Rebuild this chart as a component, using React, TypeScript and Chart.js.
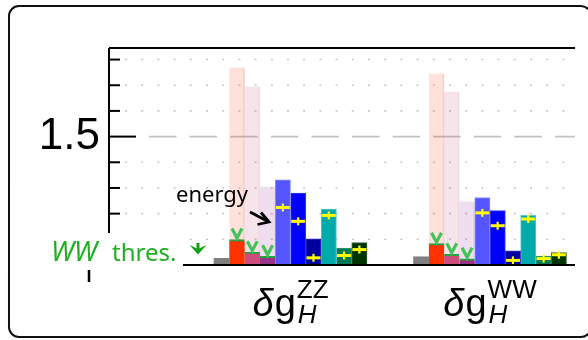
import React, { useEffect, useRef } from 'react';
import { Chart, registerables } from 'chart.js';

Chart.register(...registerables);

// ---- data ----
const groups = ['ZZ', 'WW'];
const groupPos = [1, 2];
const yTickValues = [1.1, 1.2, 1.3, 1.4, 1.5, 1.6, 1.7, 1.8];
const yLabelValue = 1.5;

const grayVals = [1.026, 1.032];
const redPaleVals = [1.769, 1.745];
const redVals = [1.099, 1.083];
const pinkPaleVals = [1.695, 1.675];
const pinkVals = [1.05, 1.042];
const purplePaleVals = [1.305, 1.247];
const purpleVals = [1.034, 1.024];
const blueLightVals = [1.332, 1.263];
const blueVals = [1.28, 1.212];
const navyVals = [1.102, 1.055];
const tealVals = [1.218, 1.193];
const seaGreenVals = [1.066, 1.035];
const darkGreenVals = [1.087, 1.048];

const blueLightCross = [1.224, 1.203];
const blueCross = [1.17, 1.153];
const navyCross = [1.028, 1.018];
const tealCross = [1.193, 1.179];
const seaGreenCross = [1.037, 1.025];
const darkGreenCross = [1.06, 1.04];

const Y_MIN = 1.0;
const Y_MAX = 1.845;

const SANS = '"Liberation Sans", Arial, sans-serif';
const NOTO = '"Noto Sans", "DejaVu Sans", sans-serif';

function pts(vals: number[]) {
  return vals.map((v, i) => ({ x: groupPos[i], y: v }));
}

type DS = any;

function solid(label: string, vals: number[], stack: string, color: string, border: string | null, extra: any = {}): DS {
  return {
    label,
    data: pts(vals),
    stack,
    order: 0,
    backgroundColor: color,
    borderColor: border || color,
    borderWidth: border ? { top: 1, left: 1, right: 1, bottom: 0 } : 0,
    borderSkipped: 'bottom',
    base: Y_MIN,
    ...extra,
  };
}

function pale(label: string, vals: number[], stack: string, color: string, border: string): DS {
  return {
    label,
    data: pts(vals),
    stack,
    order: 1,
    backgroundColor: color,
    borderColor: border,
    borderWidth: { top: 0, left: 0, right: 1, bottom: 0 },
    borderSkipped: 'bottom',
    base: Y_MIN,
  };
}

const thrBorder = { top: 2, left: 0, right: 0, bottom: 0 };

const overlay = {
  id: 'overlay',
  beforeDraw(chart: any) {
    const ctx = chart.ctx;
    ctx.save();
    ctx.fillStyle = '#ffffff';
    ctx.fillRect(0, 0, chart.width, chart.height);
    ctx.strokeStyle = '#111';
    ctx.lineWidth = 2;
    ctx.beginPath();
    ctx.roundRect(9, 6, 582, 331, 10);
    ctx.stroke();
    ctx.restore();
  },
  beforeDatasetsDraw(chart: any) {
    const ctx = chart.ctx;
    const ys = chart.scales.y;
    const { right } = chart.chartArea;
    ctx.save();
    for (const v of yTickValues) {
      const y = ys.getPixelForValue(v);
      ctx.beginPath();
      if (Math.abs(v - yLabelValue) < 1e-9) {
        ctx.strokeStyle = '#c2c2c2';
        ctx.lineWidth = 1.6;
        ctx.setLineDash([27.5, 13.1]);
        ctx.moveTo(149, y);
      } else {
        ctx.strokeStyle = '#c8c8c8';
        ctx.lineWidth = 1.6;
        ctx.setLineDash([2, 14.2]);
        ctx.moveTo(125, y);
      }
      ctx.lineTo(right, y);
      ctx.stroke();
    }
    ctx.restore();
  },
  afterDatasetsDraw(chart: any) {
    const ctx = chart.ctx;
    const ys = chart.scales.y;
    const xs = chart.scales.x;
    const { left, right, top, bottom } = chart.chartArea;
    ctx.save();

    // crosses and threshold markers
    chart.data.datasets.forEach((ds: any, i: number) => {
      const meta = chart.getDatasetMeta(i);
      meta.data.forEach((el: any, j: number) => {
        const x = el.x;
        if (ds.crosses) {
          const y = ys.getPixelForValue(ds.crosses[j]);
          ctx.strokeStyle = '#ffff00';
          ctx.lineWidth = 3;
          ctx.beginPath();
          ctx.moveTo(x - 7, y);
          ctx.lineTo(x + 7, y);
          ctx.stroke();
          ctx.lineWidth = 2.2;
          ctx.beginPath();
          ctx.moveTo(x, y - 4);
          ctx.lineTo(x, y + 4);
          ctx.stroke();
        }
        if (ds.thresh) {
          const t = el.y;
          ctx.strokeStyle = '#44c25a';
          ctx.lineWidth = 3.2;
          ctx.lineJoin = 'miter';
          ctx.beginPath();
          ctx.moveTo(x - 5, t - 11);
          ctx.lineTo(x, t - 1.5);
          ctx.lineTo(x + 5, t - 11);
          ctx.stroke();
        }
      });
    });

    // inner ticks
    ctx.strokeStyle = '#000';
    ctx.lineWidth = 2;
    for (const v of yTickValues) {
      const y = ys.getPixelForValue(v);
      const len = Math.abs(v - yLabelValue) < 1e-9 ? 27 : 11;
      ctx.beginPath();
      ctx.moveTo(left, y);
      ctx.lineTo(left + len, y);
      ctx.stroke();
    }
    // axis lines
    ctx.beginPath();
    ctx.moveTo(left, top);
    ctx.lineTo(right, top);
    ctx.moveTo(left, top);
    ctx.lineTo(left, bottom);
    ctx.moveTo(left, bottom);
    ctx.lineTo(right, bottom);
    ctx.stroke();

    // white box behind threshold label
    ctx.fillStyle = '#ffffff';
    ctx.fillRect(40, 233, 143, 34);

    // WW thres. label
    ctx.fillStyle = '#1fb01f';
    ctx.textBaseline = 'alphabetic';
    ctx.textAlign = 'left';
    ctx.font = 'italic 27px ' + NOTO;
    ctx.fillText('WW', 51, 261);
    ctx.font = '24px ' + NOTO;
    ctx.fillText('thres.', 112, 261);
    // chevron
    ctx.fillStyle = '#10a010';
    ctx.beginPath();
    ctx.moveTo(189.5, 245);
    ctx.lineTo(198, 249);
    ctx.lineTo(206.5, 245);
    ctx.lineTo(198, 254.5);
    ctx.closePath();
    ctx.fill();
    ctx.strokeStyle = '#10a010';
    ctx.lineWidth = 3;
    ctx.beginPath();
    ctx.moveTo(198, 243);
    ctx.lineTo(198, 251);
    ctx.stroke();

    // small mark
    ctx.strokeStyle = '#000';
    ctx.lineWidth = 2.5;
    ctx.beginPath();
    ctx.moveTo(89, 270);
    ctx.lineTo(89, 282);
    ctx.stroke();

    // energy label + arrow
    ctx.fillStyle = '#000';
    ctx.font = '22px ' + NOTO;
    ctx.fillText('energy', 176, 202);
    ctx.strokeStyle = '#000';
    ctx.lineWidth = 2.8;
    ctx.beginPath();
    ctx.moveTo(250, 212);
    ctx.lineTo(268, 221.5);
    ctx.stroke();
    ctx.beginPath();
    ctx.moveTo(261, 212.5);
    ctx.lineTo(269, 222);
    ctx.lineTo(257.5, 224.5);
    ctx.stroke();

    // group labels
    groups.forEach((g, i) => {
      const cx = xs.getPixelForValue(groupPos[i]);
      const fMainIt = 'italic 38px ' + SANS;
      const fMain = '38px ' + SANS;
      const fSup = '26px ' + SANS;
      const fSubIt = 'italic 26px ' + SANS;
      ctx.font = fMainIt;
      const wd = ctx.measureText('δ').width;
      ctx.font = fMain;
      const wg = ctx.measureText('g').width;
      ctx.font = fSup;
      const ws = ctx.measureText(g).width;
      ctx.font = fSubIt;
      const wh = ctx.measureText('H').width;
      const total = wd + wg + 2 + Math.max(ws, wh);
      let x = cx - total / 2;
      ctx.fillStyle = '#000';
      ctx.font = fMainIt;
      ctx.fillText('δ', x, 316);
      x += wd + 1;
      ctx.font = fMain;
      ctx.fillText('g', x, 316);
      x += wg + 1;
      ctx.font = fSup;
      ctx.fillText(g, x, 298);
      ctx.font = fSubIt;
      ctx.fillText('H', x + 1, 323);
    });

    ctx.restore();
  },
};

export default function App() {
  const ref = useRef<HTMLCanvasElement>(null);
  useEffect(() => {
    if (!ref.current) return;
    const datasets: DS[] = [
      solid('gray', grayVals, 's0', '#808080', null),
      solid('red', redVals, 's1', '#ff3300', '#22a040', { borderWidth: thrBorder, thresh: true }),
      solid('pink', pinkVals, 's2', '#cc4c7c', '#22a040', { borderWidth: thrBorder, thresh: true }),
      solid('purple', purpleVals, 's3', '#993388', '#22a040', { borderWidth: thrBorder, thresh: true }),
      solid('blueLight', blueLightVals, 's4', '#5555ff', '#8c8cff', { crosses: blueLightCross }),
      solid('blue', blueVals, 's5', '#0000ff', '#3a3aff', { crosses: blueCross }),
      solid('navy', navyVals, 's6', '#0000a0', '#3434bb', { crosses: navyCross }),
      solid('teal', tealVals, 's7', '#00aaaa', '#55cccc', { crosses: tealCross }),
      solid('seaGreen', seaGreenVals, 's8', '#007755', '#339977', { crosses: seaGreenCross }),
      solid('darkGreen', darkGreenVals, 's9', '#003300', '#3a663a', { crosses: darkGreenCross }),
      pale('redPale', redPaleVals, 's1', 'rgba(255,80,40,0.17)', 'rgba(230,110,110,0.25)'),
      pale('pinkPale', pinkPaleVals, 's2', 'rgba(204,74,122,0.15)', 'rgba(200,120,160,0.18)'),
      pale('purplePale', purplePaleVals, 's3', 'rgba(153,51,153,0.16)', 'rgba(160,100,160,0.15)'),
    ];
    const chart = new Chart(ref.current, {
      type: 'bar',
      data: { datasets },
      options: {
        responsive: false,
        animation: false,
        devicePixelRatio: 1,
        barThickness: 15.3,
        layout: { padding: { top: 48, right: 13, bottom: 75, left: 0 } },
        plugins: {
          legend: { display: false },
          tooltip: { enabled: false },
          title: { display: false },
        },
        scales: {
          x: {
            type: 'linear',
            display: false,
            min: 0.09,
            max: 2.426,
            offset: false,
          },
          y: {
            type: 'linear',
            min: Y_MIN,
            max: Y_MAX,
            stacked: false,
            afterFit: (s: any) => {
              s.width = 109;
            },
            grid: { display: false, drawTicks: false },
            border: { display: false },
            ticks: {
              stepSize: 0.1,
              autoSkip: false,
              includeBounds: false,
              padding: 9,
              color: '#000',
              font: { size: 44, family: SANS },
              callback: (v: any) => (Math.abs(Number(v) - yLabelValue) < 1e-6 ? String(yLabelValue) : ''),
            },
          },
        },
      } as any,
      plugins: [overlay],
    });
    return () => chart.destroy();
  }, []);
  return (
    <div style={{ position: 'fixed', left: 0, top: 0, width: 588, height: 340, background: '#fff' }}>
      <canvas ref={ref} width={588} height={340} style={{ display: 'block', width: 588, height: 340 }} />
    </div>
  );
}
